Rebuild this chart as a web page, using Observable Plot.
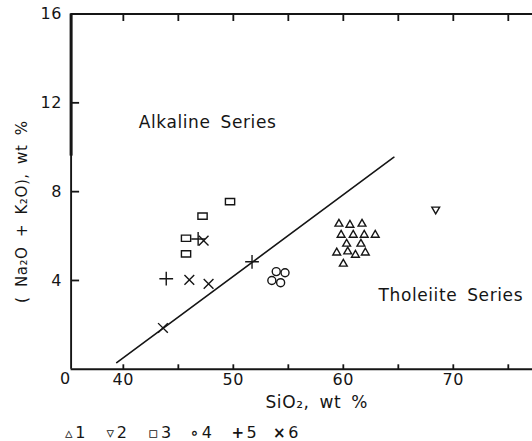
<!DOCTYPE html>
<html><head><meta charset="utf-8">
<script src="https://cdn.jsdelivr.net/npm/d3@7"></script>
<script src="https://cdn.jsdelivr.net/npm/@observablehq/plot@0.6"></script>
<style>
html,body{margin:0;padding:0;background:#fff;overflow:hidden;}
#chart svg text{letter-spacing:0.6px;word-spacing:4px;}
#legend{font-family:"DejaVu Sans",sans-serif;font-size:16px;color:#151515;height:17px;line-height:17px;padding-left:65px;white-space:nowrap;letter-spacing:0.6px;}
#legend span.item{display:inline-block;width:41.6px;}
#legend span.sym{font-size:15px;margin-right:2px;font-weight:bold;}
</style></head><body>
<div id="chart"></div>
<div id="legend"></div>
<script>
// axes
const xTicks = [40, 45, 50, 55, 60, 65, 70, 75];
const xTickLabels = [40, 50, 60, 70];
const yTicks = [4, 8, 12];
const yTickLabels = [4, 8, 12, 16];
const xDomain = [35.25, 77.2];
const yDomain = [0, 16];
const thickAxisFrom = 9.6; // upper part of the left axis is drawn heavier in the original
const xLabel = "SiO₂, wt %";
const yLabel = "( Na₂O + K₂O), wt %";
const axisZeroLabel = "0";

// group 1 (triangles)
const g1X = [59.6, 60.6, 61.7, 59.8, 60.9, 61.9, 62.9, 60.3, 61.6, 59.4, 60.4, 61.1, 62.0, 60.0];
const g1Y = [6.55, 6.5, 6.55, 6.05, 6.05, 6.05, 6.05, 5.65, 5.65, 5.25, 5.3, 5.15, 5.25, 4.75];
// group 2 (inverted triangle)
const g2X = [68.4];
const g2Y = [7.2];
// group 3 (squares)
const g3X = [49.7, 47.2, 45.7, 45.7];
const g3Y = [7.55, 6.9, 5.9, 5.2];
// group 4 (circles)
const g4X = [53.5, 53.9, 54.7, 54.3];
const g4Y = [4.0, 4.4, 4.35, 3.9];
// group 5 (plus)
const g5X = [46.8, 43.9, 51.7];
const g5Y = [5.87, 4.08, 4.84];
// group 6 (times)
const g6X = [47.3, 46.0, 47.75, 43.6];
const g6Y = [5.79, 4.03, 3.85, 1.86];

// dividing line
const boundaryX = [39.4, 64.6];
const boundaryY = [0.3, 9.55];

// region labels
const regionNames = ["Alkaline Series", "Tholeiite Series"];
const regionX = [41.4, 63.2];
const regionY = [11.1, 3.3];

// legend
const legendSymbols = ["▵", "▿", "▫", "∘", "+", "×"];
const legendLabels = ["1", "2", "3", "4", "5", "6"];

const pts = (xs, ys) => xs.map((x, i) => ({x, y: ys[i]}));

const rectSymbol = {
  draw(ctx, size) {
    const s = Math.sqrt(size);
    ctx.rect(-s * 0.62, -s * 0.42, s * 1.24, s * 0.84);
  }
};

const W = 532, H = 424;
const mL = 70.6, mR = 0, mT = 13.5, mB = 55.2;
const frameW = W - mL - mR, frameH = H - mT - mB;

const ink = "#151515";
const dotStyle = {x: "x", y: "y", stroke: ink, fill: "none", strokeWidth: 1.4};
const noText = () => "";

const plot = Plot.plot({
  width: W,
  height: H,
  marginLeft: mL,
  marginRight: mR,
  marginTop: mT,
  marginBottom: mB,
  style: {fontFamily: "DejaVu Sans, sans-serif", fontSize: "16px", background: "white", color: ink},
  x: {domain: xDomain},
  y: {domain: yDomain},
  marks: [
    // frame (left, top, bottom)
    Plot.ruleX([xDomain[0]], {y1: yDomain[0], y2: yDomain[1], stroke: ink, strokeWidth: 1.9}),
    Plot.ruleX([xDomain[0]], {y1: thickAxisFrom, y2: yDomain[1], stroke: ink, strokeWidth: 3}),
    Plot.ruleY([yDomain[0]], {x1: xDomain[0], x2: xDomain[1], stroke: ink, strokeWidth: 2}),
    Plot.ruleY([yDomain[1]], {x1: xDomain[0], x2: xDomain[1], stroke: ink, strokeWidth: 2}),
    // inward ticks: an axis of the opposite side shifted across the frame
    Plot.axisX({anchor: "top", ticks: xTicks, tickSize: 5.5, tickFormat: noText, label: null, dy: frameH, stroke: ink, strokeWidth: 1.8}),
    Plot.axisX({anchor: "bottom", ticks: xTicks, tickSize: 7.5, tickFormat: noText, label: null, dy: -frameH, stroke: ink, strokeWidth: 1.8}),
    Plot.axisY({anchor: "right", ticks: yTicks, tickSize: 7.5, tickFormat: noText, label: null, dx: -frameW, stroke: ink, strokeWidth: 1.8}),
    // tick labels
    Plot.axisX({anchor: "bottom", ticks: xTickLabels, tickSize: 0, tickPadding: 4, label: null, fontSize: 16, fill: ink}),
    Plot.axisY({anchor: "left", ticks: yTickLabels, tickSize: 0, tickPadding: 9, label: null, fontSize: 16, fill: ink}),
    Plot.text([axisZeroLabel], {x: xDomain[0], y: yDomain[0], text: d => d, dx: -5.6, dy: 10, fontSize: 16, fill: ink}),
    // axis titles
    Plot.text([xLabel], {frameAnchor: "bottom", text: d => d, textAnchor: "middle", lineAnchor: "middle", dx: 15, dy: 33, fontSize: 17, fill: ink}),
    Plot.text([yLabel], {frameAnchor: "left", text: d => d, textAnchor: "middle", lineAnchor: "middle", rotate: -90, dx: -49, dy: 20, fontSize: 15, fill: ink}),
    // boundary line
    Plot.line(pts(boundaryX, boundaryY), {x: "x", y: "y", stroke: ink, strokeWidth: 1.6}),
    // region labels
    Plot.text(regionNames.map((t, i) => ({t, x: regionX[i], y: regionY[i]})), {x: "x", y: "y", text: "t", textAnchor: "start", fontSize: 17, fill: ink}),
    // data
    Plot.dot(pts(g1X, g1Y), {...dotStyle, symbol: "triangle", r: 2.9}),
    Plot.dot(pts(g2X, g2Y), {...dotStyle, symbol: "triangle", r: 2.9, rotate: 180}),
    Plot.dot(pts(g3X, g3Y), {...dotStyle, symbol: rectSymbol, r: 4.2}),
    Plot.dot(pts(g4X, g4Y), {...dotStyle, symbol: "circle", r: 4}),
    Plot.dot(pts(g5X, g5Y), {...dotStyle, symbol: "plus", r: 4.5}),
    Plot.dot(pts(g6X, g6Y), {...dotStyle, symbol: "times", r: 4.5})
  ]
});
document.getElementById("chart").append(plot);

const legend = document.getElementById("legend");
legendSymbols.forEach((s, i) => {
  const item = document.createElement("span");
  item.className = "item";
  const sym = document.createElement("span");
  sym.className = "sym";
  sym.textContent = s;
  item.append(sym, document.createTextNode(legendLabels[i]));
  legend.append(item);
});
</script>
</body></html>
